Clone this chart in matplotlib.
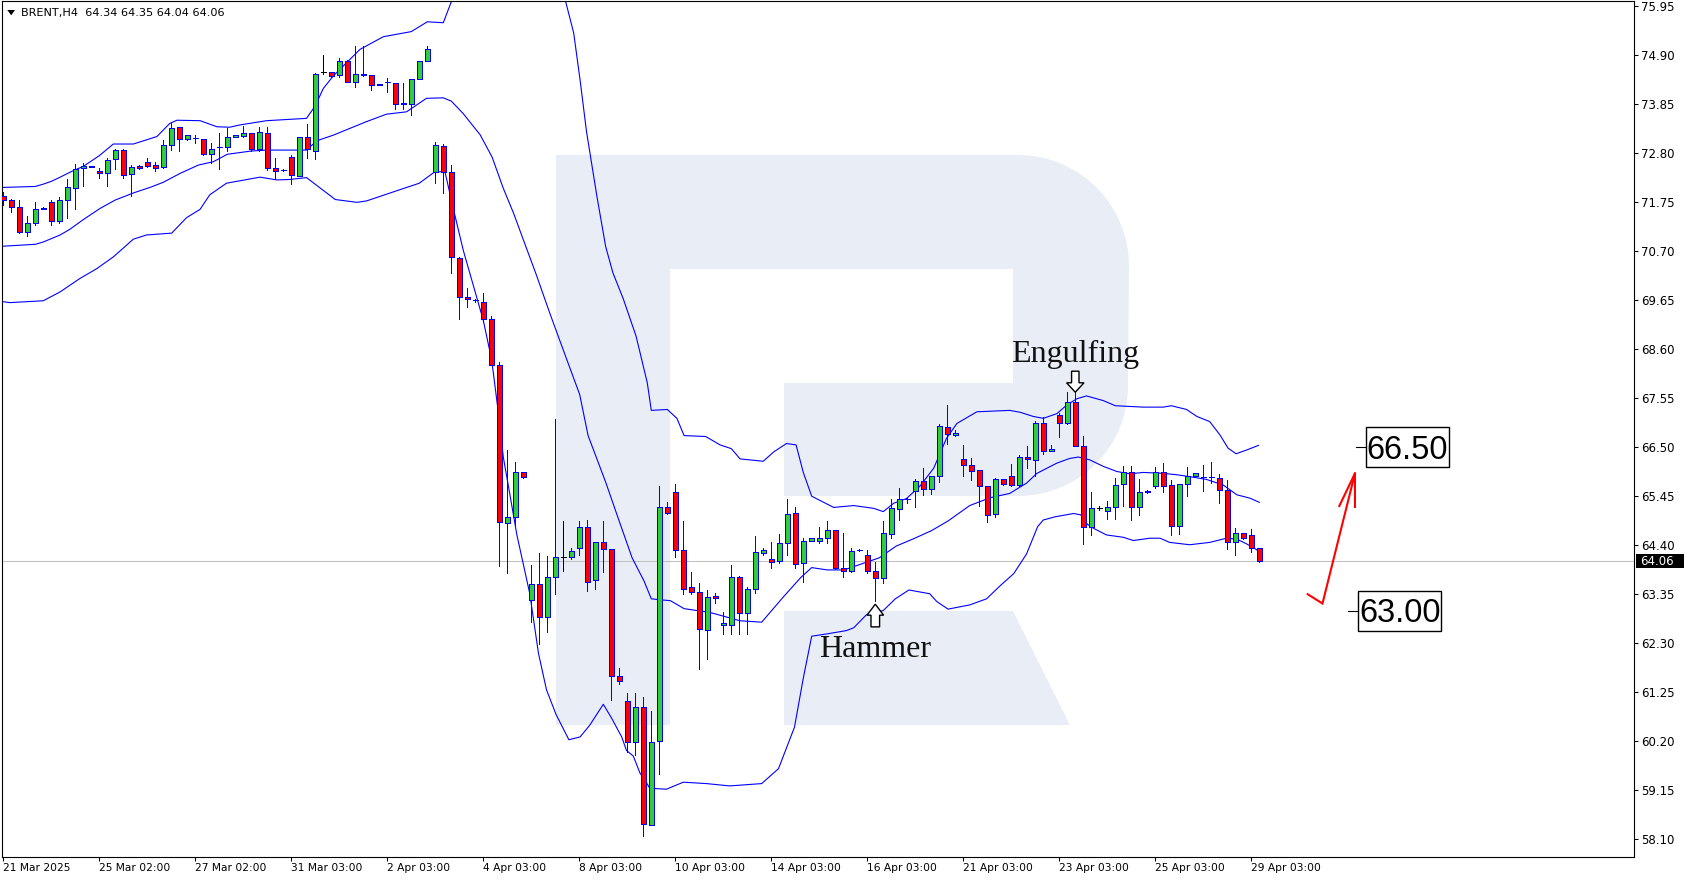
import matplotlib
matplotlib.use('Agg')
import matplotlib.pyplot as plt
from matplotlib.patches import Rectangle, Polygon
from matplotlib import font_manager
import numpy as np

W, H, DPI = 1684, 882, 100
plt.rcParams['font.family'] = ['DejaVu Sans']

# ---------------- data (BRENT, H4) ----------------
opens = [71.88, 71.81, 71.64, 71.11, 71.30, 71.61, 71.75, 71.36, 71.81, 72.05,
         72.48, 72.51, 72.43, 72.37, 72.67, 72.87, 72.35, 72.53, 72.61, 72.54,
         72.50, 72.97, 73.36, 73.10, 73.12, 73.10, 72.78, 72.93, 72.93, 73.16,
         73.17, 73.23, 72.90, 73.23, 72.48, 72.44, 72.73, 72.32, 73.14, 72.86,
         74.55, 74.54, 74.49, 74.79, 74.33, 74.49, 74.47, 74.28, 74.33, 74.30,
         73.86, 73.85, 74.40, 74.77, 72.41, 72.95, 72.41, 70.55, 69.71, 69.66,
         69.62, 69.24, 68.27, 64.87, 65.01, 65.96, 63.22, 63.56, 62.87, 63.71,
         64.14, 64.14, 64.35, 64.78, 63.65, 64.46, 64.31, 61.59, 61.07, 60.18,
         60.94, 58.40, 60.20, 65.21, 65.55, 64.29, 63.50, 63.39, 62.58, 63.32,
         62.70, 62.70, 63.72, 62.94, 63.47, 64.23, 64.10, 64.07, 64.44, 65.08,
         64.01, 64.50, 64.50, 64.55, 64.72, 63.92, 63.84, 64.29, 64.18, 63.84,
         63.69, 64.65, 65.17, 65.38, 65.57, 65.77, 65.60, 65.88, 66.93, 66.76,
         66.24, 66.11, 66.02, 65.66, 65.06, 65.81, 65.88, 65.68, 66.29, 66.22,
         67.03, 66.41, 67.20, 67.03, 67.46, 66.52, 64.80, 65.19, 65.13, 65.21,
         65.72, 65.96, 65.21, 65.53, 65.67, 65.96, 65.68, 64.82, 65.71, 65.89,
         65.86, 65.86, 65.83, 65.59, 64.46, 64.66, 64.61, 64.34]
highs = [71.98, 71.83, 71.80, 71.46, 71.76, 71.64, 71.80, 71.86, 72.25, 72.58,
         72.60, 72.53, 72.48, 72.69, 72.90, 72.90, 72.54, 72.56, 72.71, 72.62,
         73.08, 73.46, 73.37, 73.20, 73.20, 73.11, 73.02, 73.23, 73.34, 73.20,
         73.38, 73.24, 73.36, 73.36, 72.71, 72.46, 72.76, 73.14, 73.42, 74.53,
         74.91, 74.55, 74.84, 74.81, 75.10, 75.10, 74.48, 74.29, 74.41, 74.31,
         74.30, 74.40, 74.79, 75.11, 73.04, 73.00, 72.54, 70.57, 69.92, 69.67,
         69.80, 69.31, 68.32, 66.44, 66.19, 65.96, 63.97, 64.23, 64.17, 67.10,
         64.91, 64.33, 64.91, 64.93, 64.46, 64.91, 64.31, 61.76, 61.24, 61.24,
         61.14, 60.84, 65.66, 65.32, 65.72, 64.91, 63.82, 63.60, 63.43, 63.37,
         62.96, 63.97, 63.75, 63.50, 64.60, 64.33, 64.46, 64.65, 65.40, 65.21,
         64.55, 64.55, 64.78, 64.91, 64.72, 64.67, 64.33, 64.31, 64.29, 64.05,
         64.91, 65.40, 65.62, 65.43, 65.81, 66.05, 65.88, 66.99, 67.40, 66.86,
         66.54, 66.28, 66.02, 65.66, 65.85, 65.81, 66.15, 66.33, 66.52, 67.07,
         67.15, 66.54, 67.23, 67.68, 67.68, 66.75, 65.54, 65.23, 65.35, 65.83,
         66.09, 66.10, 65.81, 65.58, 66.08, 66.16, 65.80, 65.71, 66.07, 65.94,
         66.11, 66.18, 65.93, 65.80, 64.76, 64.66, 64.75, 64.35]
lows = [71.69, 71.55, 71.10, 71.03, 71.26, 71.60, 71.26, 71.31, 71.42, 71.61,
        72.10, 72.50, 72.28, 72.10, 72.47, 72.28, 71.89, 72.47, 72.51, 72.43,
        72.48, 72.88, 72.86, 73.09, 73.02, 72.76, 72.59, 72.47, 72.86, 73.15,
        73.15, 72.86, 72.86, 72.44, 72.24, 72.43, 72.14, 72.31, 72.69, 72.67,
        74.50, 74.43, 74.43, 74.32, 74.23, 74.45, 74.16, 74.26, 74.12, 73.76,
        73.76, 73.62, 74.40, 74.77, 72.17, 71.95, 70.24, 69.24, 69.50, 69.62,
        69.19, 68.27, 63.96, 63.80, 64.82, 65.83, 62.75, 62.29, 62.53, 63.35,
        63.85, 64.10, 64.20, 63.42, 63.47, 63.82, 61.09, 61.42, 59.97, 59.90,
        58.16, 58.40, 59.49, 65.06, 64.14, 63.35, 63.35, 61.74, 61.97, 63.17,
        62.49, 62.49, 62.49, 62.49, 63.37, 64.20, 63.92, 64.01, 64.20, 63.92,
        63.62, 64.49, 64.44, 64.44, 63.90, 63.71, 63.82, 64.27, 63.80, 63.20,
        63.60, 64.55, 64.93, 65.30, 65.21, 65.47, 65.49, 65.75, 66.58, 66.75,
        65.88, 65.79, 65.23, 64.89, 65.00, 65.70, 65.66, 65.66, 66.06, 65.89,
        66.35, 66.41, 66.73, 66.99, 66.52, 64.42, 64.62, 65.15, 64.97, 64.97,
        65.23, 64.94, 65.05, 65.52, 65.62, 65.55, 64.62, 64.64, 65.46, 65.89,
        65.57, 65.73, 65.30, 64.31, 64.18, 64.53, 64.26, 64.04]
closes = [71.81, 71.64, 71.11, 71.30, 71.60, 71.63, 71.36, 71.81, 72.07, 72.46,
          72.53, 72.52, 72.38, 72.66, 72.87, 72.33, 72.50, 72.48, 72.52, 72.48,
          72.97, 73.34, 73.10, 73.19, 73.13, 72.78, 72.89, 72.94, 73.14, 73.20,
          73.23, 72.89, 73.25, 72.48, 72.43, 72.45, 72.33, 73.14, 72.89, 74.51,
          74.55, 74.45, 74.79, 74.33, 74.50, 74.50, 74.26, 74.27, 74.34, 73.85,
          73.87, 74.40, 74.79, 75.04, 72.97, 72.41, 70.57, 69.71, 69.67, 69.65,
          69.24, 68.27, 64.89, 65.00, 65.96, 65.87, 63.56, 62.87, 63.71, 64.14,
          64.14, 64.27, 64.80, 63.62, 64.46, 64.31, 61.59, 61.49, 60.18, 60.94,
          58.42, 60.18, 65.21, 65.10, 64.29, 63.47, 63.39, 62.60, 63.30, 63.26,
          62.74, 63.72, 62.94, 63.47, 64.25, 64.29, 64.05, 64.44, 65.06, 63.99,
          64.50, 64.55, 64.55, 64.72, 63.92, 63.84, 64.27, 64.30, 63.84, 63.69,
          64.67, 65.19, 65.38, 65.39, 65.77, 65.60, 65.88, 66.95, 66.78, 66.80,
          66.11, 66.00, 65.66, 65.04, 65.81, 65.72, 65.68, 66.29, 66.24, 67.03,
          66.43, 66.46, 67.03, 67.46, 66.52, 64.78, 65.19, 65.19, 65.21, 65.70,
          65.96, 65.21, 65.53, 65.57, 65.96, 65.67, 64.82, 65.71, 65.89, 65.94,
          65.87, 65.87, 65.59, 64.46, 64.66, 64.55, 64.34, 64.06]

# Bollinger bands (bar position, price)
upper_bar = [0, 4, 5, 6, 7, 8.75, 10, 12, 13.75, 16.25, 19.2, 20.8, 21.7, 24.6, 26.7, 28.3, 29.6,
             32.9, 37.9, 39, 40, 41.25, 44.6, 47.5, 51, 53, 55, 56, 58, 62, 66, 69, 70.3, 71.3,
             72.1, 72.9, 74.2, 75.3, 76.2, 77.5, 79.1, 80.5, 81, 83, 84.2, 85.1, 87.8, 89.6, 91,
             92.1, 95, 96.3, 97.9, 99.1, 100, 101.05, 103.8, 106.3, 108.8, 110, 111.3, 112.9,
             114.6, 116.3, 117.9, 119.2, 121.7, 125.8, 127.1, 128.75, 130, 131.7, 132.9, 134.2,
             135.4, 137.5, 139, 142.5, 145, 146, 147.9, 149.2, 150.8, 152.1, 153.1, 154.1,
             155.4, 156.9]
upper_val = [72.07, 72.09, 72.14, 72.20, 72.28, 72.43, 72.52, 72.75, 73.00, 73.00, 73.16, 73.44,
             73.51, 73.50, 73.37, 73.36, 73.41, 73.50, 73.55, 73.82, 74.19, 74.46, 75.03, 75.30,
             75.41, 75.62, 75.60, 76.05, 77.20, 78.60, 78.20, 76.90, 76.05, 75.38, 74.37, 73.27,
             71.88, 70.80, 70.24, 69.68, 68.88, 67.88, 67.29, 67.31, 67.12, 66.75, 66.73, 66.55,
             66.47, 66.25, 66.20, 66.40, 66.58, 66.55, 65.96, 65.45, 65.21, 65.25, 65.19, 65.12,
             65.30, 65.40, 65.67, 66.05, 66.69, 67.01, 67.26, 67.29, 67.25, 67.16, 67.12, 67.22,
             67.40, 67.54, 67.60, 67.50, 67.39, 67.36, 67.36, 67.39, 67.31, 67.16, 67.05, 66.76,
             66.48, 66.36, 66.44, 66.54]
middle_bar = [0, 4, 5, 7.1, 8.3, 10, 12.1, 14, 16.25, 18.5, 20, 22.1, 24.4, 26.25, 28, 31, 33,
              37.9, 39.2, 41.25, 45.4, 47.9, 50.4, 52.9, 55, 56, 57.5, 58.8, 59.6, 61.1, 62.5,
              63.8, 65, 66.6, 68.3, 69.9, 72.05, 73.1, 75.3, 76.9, 78.6, 80.1, 81, 83.4, 85.1,
              88.3, 92.1, 94.8, 97.5, 99.7, 101.05, 103, 105.1, 107.3, 109.5, 111.6, 113.8, 116,
              118.1, 120.8, 123.4, 125.8, 127.9, 129.2, 131.7, 133.3, 134.4, 135.8, 137.5, 139.2,
              140.8, 142.5, 145, 146.7, 148.3, 150.4, 152.5, 154.2, 155.8, 157]
middle_val = [70.81, 70.85, 70.90, 71.05, 71.17, 71.38, 71.62, 71.80, 71.95, 72.08, 72.18, 72.37,
              72.55, 72.62, 72.78, 72.85, 72.87, 72.87, 73.07, 73.19, 73.48, 73.64, 73.69, 73.98,
              73.99, 73.92, 73.65, 73.37, 73.20, 72.72, 72.05, 71.51, 70.95, 70.21, 69.38, 68.63,
              67.63, 66.75, 65.75, 64.96, 64.13, 63.63, 63.25, 63.21, 63.04, 62.96, 62.78, 62.75,
              63.29, 63.71, 63.92, 63.87, 63.87, 64.00, 64.13, 64.38, 64.54, 64.71, 64.92, 65.25,
              65.42, 65.51, 65.73, 65.94, 66.16, 66.26, 66.29, 66.23, 66.09, 65.98, 65.93, 65.96,
              65.94, 65.91, 65.87, 65.81, 65.69, 65.48, 65.41, 65.32]
lower_bar = [0, 0.8, 5, 7.1, 9.6, 11.7, 13.75, 15.4, 16.25, 17.9, 21.05, 22.9, 24.6, 25.8, 27.9,
             32.1, 34.2, 35.8, 37.9, 41.5, 44.2, 45.4, 48, 52, 53.9, 55.2, 56.3, 57.5, 58.8, 60,
             61.05, 61.9, 62.5, 63.3, 64.2, 65.8, 66.9, 67.9, 69.1, 70.7, 72.1, 73.3, 75, 76.05,
             77.3, 77.9, 78.75, 79.6, 80.2, 80.8, 82.9, 85, 87.9, 90.8, 94.8, 96.9, 98.9, 100,
             101.05, 103, 105.4, 106.3, 107.9, 110, 111.5, 113.2, 115.8, 116.7, 118.1, 120.8,
             122.9, 124.6, 126.3, 127.9, 129.3, 130, 131.5, 133.8, 134.7, 135.5, 136.3, 137.9,
             140, 141.25, 143.3, 144.6, 145.8, 148.3, 150.8, 152.9, 154.2, 155.4, 156.7, 157.1]
lower_val = [69.62, 69.60, 69.64, 69.83, 70.12, 70.33, 70.58, 70.83, 70.96, 71.05, 71.09, 71.42,
             71.60, 71.91, 72.16, 72.29, 72.23, 72.24, 72.28, 71.81, 71.75, 71.78, 71.93, 72.16,
             72.40, 72.41, 71.58, 70.72, 69.94, 69.22, 68.37, 67.22, 66.29, 65.51, 64.62, 63.37,
             62.08, 61.30, 60.77, 60.23, 60.29, 60.54, 60.99, 60.69, 60.29, 60.00, 59.88, 59.51,
             59.37, 59.19, 59.17, 59.32, 59.29, 59.24, 59.29, 59.61, 60.50, 61.55, 62.45, 62.50,
             62.57, 62.63, 62.91, 63.00, 63.25, 63.44, 63.36, 63.19, 63.03, 63.12, 63.25, 63.53,
             63.79, 64.21, 64.80, 64.94, 65.01, 65.08, 65.05, 64.85, 64.76, 64.62, 64.57, 64.50,
             64.55, 64.55, 64.46, 64.41, 64.46, 64.55, 64.53, 64.43, 64.30, 64.19]

x_tick_bars = [0, 12, 24, 36, 48, 60, 72, 84, 96, 108, 120, 132, 144, 156]
x_tick_labels = ['21 Mar 2025', '25 Mar 02:00', '27 Mar 02:00', '31 Mar 03:00', '2 Apr 03:00',
                 '4 Apr 03:00', '8 Apr 03:00', '10 Apr 03:00', '14 Apr 03:00', '16 Apr 03:00',
                 '21 Apr 03:00', '23 Apr 03:00', '25 Apr 03:00', '29 Apr 03:00']
y_ticks = [58.10, 59.15, 60.20, 61.25, 62.30, 63.35, 64.40, 65.45, 66.50, 67.55, 68.60,
           69.65, 70.70, 71.75, 72.80, 73.85, 74.90, 75.95]

symbol_title = 'BRENT,H4'
pattern_names = ['Engulfing', 'Hammer']
pattern_bars = [134, 109]
target_levels = [66.50, 63.00]
target_label_bars = [170.3, 169.4]
forecast_bars = [163.05, 164.9, 168.96]
forecast_prices = [63.35, 63.15, 65.94]

# ---------------- figure ----------------
fig = plt.figure(figsize=(W / DPI, H / DPI), dpi=DPI)
fig.patch.set_facecolor('white')

# background layer: watermark logo (pixel coordinates)
bg = fig.add_axes([0, 0, 1, 1], zorder=0)
bg.set_xlim(0, W); bg.set_ylim(H, 0); bg.axis('off')
wm = '#e9edf5'
bg.add_patch(Rectangle((556, 155), 114, 570, fc=wm, ec='none'))
t1 = np.linspace(np.pi / 2, 0, 30)
t2 = np.linspace(0, -np.pi / 2, 30)
bowl = [(670, 155), (1018, 155)]
bowl += [(1018 + 111 * np.cos(t), 266 - 111 * np.sin(t)) for t in t1]
bowl += [(1018 + 110 * np.cos(t), 386 - 110 * np.sin(t)) for t in t2]
bowl += [(784, 496), (784, 383), (1013, 383), (1013, 269), (670, 269)]
bg.add_patch(Polygon(bowl, closed=True, fc=wm, ec='none'))
bg.add_patch(Polygon([(784, 611), (1013, 611), (1070, 725), (784, 725)], closed=True, fc=wm, ec='none'))

# main chart
ax = fig.add_axes([2 / W, (H - 857) / H, (1634 - 2) / W, (857 - 1) / H], zorder=1)
ax.patch.set_alpha(0)
ax.set_xlim(-0.1625, 203.84)
ax.set_ylim(75.95 - (857 - 6.4) / 46.65, 75.95 + (6.4 - 1) / 46.65)

n = len(opens)
xs = np.arange(n)
O = np.array(opens); Hh = np.array(highs); L = np.array(lows); C = np.array(closes)

ax.axhline(closes[-1], color='#c0c0c0', lw=0.75, zorder=1)

for b, v in ((upper_bar, upper_val), (middle_bar, middle_val), (lower_bar, lower_val)):
    ax.plot(b, v, color='#0000ff', lw=0.8, zorder=2)

doji = O == C
wick_colors = ['black' if d else '#0000ff' for d in doji]
ax.vlines(xs, L, Hh, colors=wick_colors, lw=0.6, zorder=3, antialiased=False)
nd = ~doji
fills = np.where(C[nd] > O[nd], '#32cd32', '#ff0000')
ax.bar(xs[nd], np.abs(C[nd] - O[nd]), bottom=np.minimum(O[nd], C[nd]), width=0.56,
       color=fills, edgecolor='#0000ff', linewidth=0.5, zorder=4, antialiased=False)
ax.hlines(C[doji], xs[doji] - 0.3, xs[doji] + 0.3, colors='black', lw=0.6, zorder=4,
          antialiased=False)

# forecast arrow
ax.plot(forecast_bars, forecast_prices, color='#ff0000', lw=1.5, zorder=5, solid_joinstyle='miter')
tipx, tipy = forecast_bars[-1], forecast_prices[-1]
ax.plot([167.0, tipx, tipx], [65.24, tipy, 65.22], color='#ff0000', lw=1.5, zorder=5)

# pattern labels
serif = ['Liberation Serif', 'DejaVu Serif']
ax.text(pattern_bars[0], 68.33, pattern_names[0], ha='center', va='baseline', fontsize=23,
        family=serif, color='#111111', zorder=6)
ax.text(pattern_bars[1], 62.01, pattern_names[1], ha='center', va='baseline', fontsize=23,
        family=serif, color='#111111', zorder=6)

# axes styling
for s in ax.spines.values():
    s.set_linewidth(0.8); s.set_color('black')
ax.yaxis.tick_right()
ax.set_yticks(y_ticks)
ax.set_yticklabels([f'{v:.2f}' for v in y_ticks])
ax.tick_params(axis='y', direction='out', length=2.9, width=0.75, pad=2.0, labelsize=8.5,
               colors='black')

names = {f.name for f in font_manager.fontManager.ttflist}
if 'Liberation Sans Narrow' in names:
    xfam, xsize = 'Liberation Sans Narrow', 10.0
else:
    xfam, xsize = 'DejaVu Sans', 7.7
ax.set_xticks(x_tick_bars)
ax.set_xticklabels(x_tick_labels, ha='left', family=xfam, fontsize=xsize)
ax.tick_params(axis='x', direction='out', length=2.9, width=0.75, pad=1.5, colors='black')

# foreground layer (pixel coordinates)
fg = fig.add_axes([0, 0, 1, 1], zorder=5)
fg.set_xlim(0, W); fg.set_ylim(H, 0); fg.axis('off'); fg.patch.set_alpha(0)

def to_px(bx, price):
    X, Y = ax.transData.transform((bx, price))
    return X, H - Y

# pattern arrows (hollow)
tx, ty = to_px(pattern_bars[0], highs[pattern_bars[0]])
down = [(-3.7, -21), (3.7, -21), (3.7, -9.4), (8.7, -9.4), (0, 0), (-8.7, -9.4), (-3.7, -9.4)]
fg.add_patch(Polygon([(tx + a, ty + b) for a, b in down], closed=True, fc='white', ec='black',
                     lw=1.0, zorder=6))
tx, ty = to_px(pattern_bars[1], lows[pattern_bars[1]])
ty += 3
up = [(-4.3, 22.7), (4.3, 22.7), (4.3, 11), (8.3, 11), (0, 0), (-8.3, 11), (-4.3, 11)]
fg.add_patch(Polygon([(tx + a, ty + b) for a, b in up], closed=True, fc='white', ec='black',
                     lw=1.0, zorder=6))

# target level boxes
for lvl, bx in zip(target_levels, target_label_bars):
    X, Y = to_px(bx, lvl)
    fg.add_patch(Rectangle((X, Y - 20), 83, 40, fc='white', ec='black', lw=1.0, zorder=6))
    fg.plot([X - 10, X], [Y, Y], color='black', lw=0.8, zorder=6)
    fg.text(X + 41.5, Y + 11.8, f'{lvl:.2f}', ha='center', va='baseline', fontsize=23.5,
            family=['Liberation Sans', 'DejaVu Sans'], color='black', zorder=7)

# current price label
X, Y = to_px(0, closes[-1])
fg.add_patch(Rectangle((1636, Y - 7), 48, 14, fc='black', ec='none', zorder=6))
fg.text(1640, Y + 4.2, f'{closes[-1]:.2f}', ha='left', va='baseline', fontsize=8.5,
        color='white', zorder=7)

# header
fg.add_patch(Polygon([(7.3, 10), (15, 10), (11.2, 15.3)], closed=True, fc='black', ec='none'))
fg.text(21, 12.7, f'{symbol_title}  {opens[-1]:.2f} {highs[-1]:.2f} {lows[-1]:.2f} {closes[-1]:.2f}',
        ha='left', va='center', fontsize=8.1, color='black')

fig.savefig('out.png', dpi=DPI)
